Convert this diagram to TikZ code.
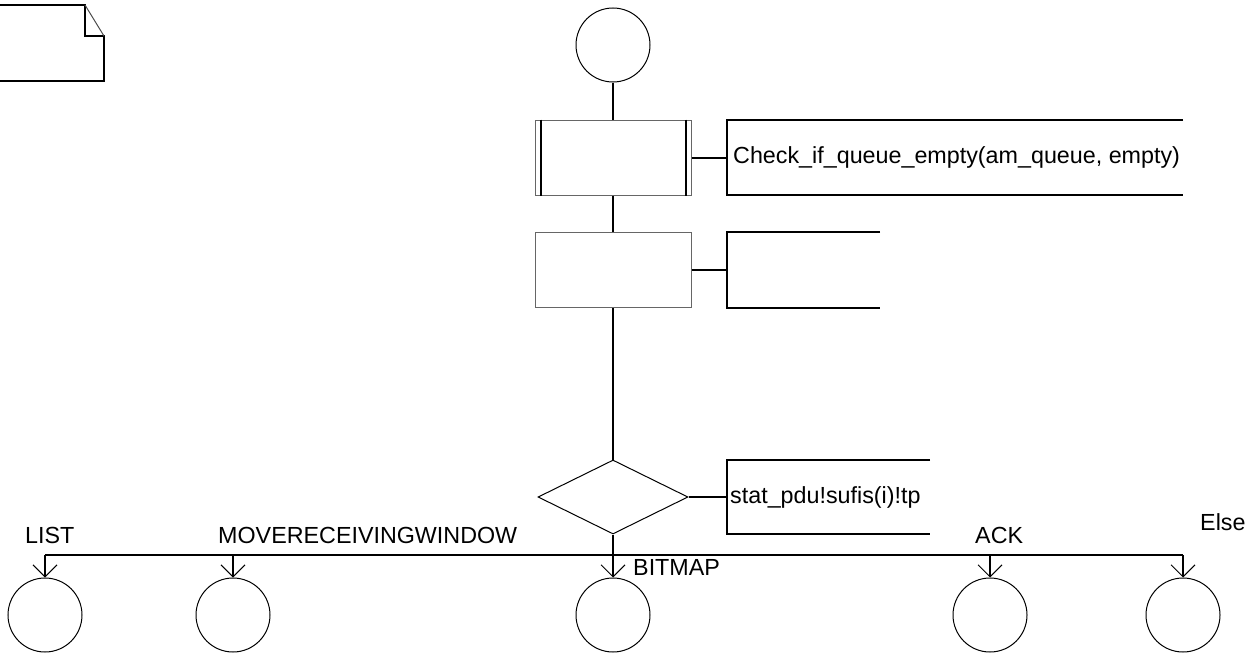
\documentclass[tikz,border=0pt]{standalone}
\usepackage{fontspec}
\setmainfont{Liberation Sans}
\usetikzlibrary{shapes.geometric,positioning,arrows.meta}

\begin{document}
\begin{tikzpicture}[x=1pt,y=1pt,node distance=112.5pt,on grid,
	every node/.style={font=\fontsize{23.3}{28}\selectfont,inner sep=0pt},
	statenode/.style={circle,draw,line width=1pt,minimum size=74pt},
	boxnode/.style={rectangle,draw=black!60,line width=1pt,minimum width=156pt,minimum height=75pt},
	decnode/.style={diamond,draw,line width=1pt,minimum width=150pt,minimum height=74pt},
	flowline/.style={line width=2pt},
	busline/.style={line width=1.3pt},
	tip/.style={-{Straight Barb[length=12pt,width=24pt,line width=1pt]}}]
	\useasboundingbox (0,0) rectangle (1260,-653);
	% note in the corner
	\draw[flowline] (0,-5) -- (85,-5) -- (85,-36) -- (104,-36) -- (104,-81) -- (0,-81);
	\draw[line width=1pt,black!70] (85,-5) -- (104,-36);
	% main flow
	\node[statenode] (start) at (613,-45) {};
	\node[boxnode] (chk) [below=of start] {};
	\node[boxnode] (upd) [below=of chk] {};
	\node[decnode] (dec) [below=227pt of upd] {};
	\draw[flowline] ([xshift=6pt]chk.north west) -- ([xshift=6pt]chk.south west);
	\draw[flowline] ([xshift=-6pt]chk.north east) -- ([xshift=-6pt]chk.south east);
	\path[flowline] 
	(start) edge (chk)
	(chk) edge (upd)
	(upd) edge (dec);
	% comments
	\coordinate (chkc) at (727,-157.5);
	\coordinate (updc) at (727,-270);
	\coordinate (decc) at (727,-497);
	\draw[flowline] (chk) -- (chkc);
	\draw[flowline] (upd) -- (updc);
	\draw[flowline] (dec) -- (decc);
	\draw[flowline] ([shift={(456pt,37.5pt)}]chkc) -| ([yshift=-37.5pt]chkc) -- ++(456pt,0);
	\draw[flowline] ([shift={(153pt,38pt)}]updc) -| ([yshift=-38pt]updc) -- ++(153pt,0);
	\draw[flowline] ([shift={(203pt,37pt)}]decc) -| ([yshift=-37pt]decc) -- ++(203pt,0);
	\node[anchor=west] (chkt) at (733,-157.5) {Check\_if\_queue\_empty(am\_queue, empty)};
	\node[anchor=west] (dect) at (730,-497) {stat\_pdu!sufis(i)!tp};
	% answers
	\node[statenode] (bitmap) [below=118pt of dec] {};
	\node[statenode] (move) [left=380pt of bitmap] {};
	\node[statenode] (list) [left=188pt of move] {};
	\node[statenode] (ack) [right=377pt of bitmap] {};
	\node[statenode] (other) [right=193pt of ack] {};
	\coordinate (bus) at (613,-555);
	\draw[busline] (list.north |- bus) -- (other.north |- bus);
	\draw[flowline,tip] (dec) -- (bitmap);
	\foreach \n in {list,move,ack,other}
	\draw[flowline,tip] (\n.north |- bus) -- (\n.north);
	\node[anchor=west] at (25,-535) {LIST};
	\node[anchor=west] at (218,-535) {MOVERECEIVINGWINDOW};
	\node[anchor=west] at (633,-567) {BITMAP};
	\node[anchor=west] at (975,-535) {ACK};
	\node[anchor=west] at (1200,-522) {Else};
\end{tikzpicture}
\end{document}
